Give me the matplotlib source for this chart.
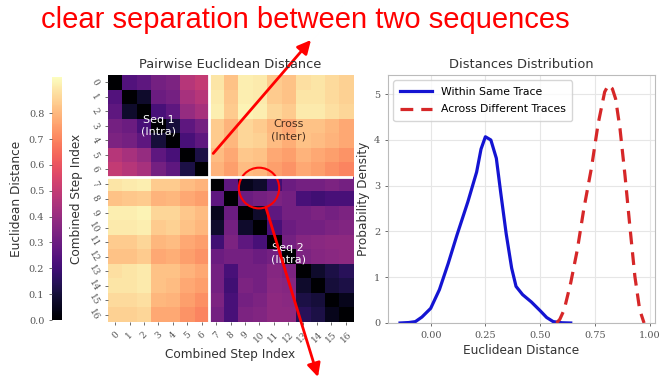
import numpy as np
import matplotlib
matplotlib.use("Agg")
import matplotlib.pyplot as plt
from matplotlib.patches import Circle

# distance blocks (Seq 1 = steps 0-6, Seq 2 = steps 7-16)
seq1_block = [
    [0.00, 0.24, 0.27, 0.32, 0.34, 0.47, 0.50],
    [0.24, 0.00, 0.08, 0.30, 0.32, 0.44, 0.47],
    [0.27, 0.08, 0.00, 0.22, 0.27, 0.40, 0.44],
    [0.32, 0.30, 0.22, 0.00, 0.10, 0.27, 0.32],
    [0.34, 0.32, 0.27, 0.10, 0.00, 0.22, 0.27],
    [0.47, 0.44, 0.40, 0.27, 0.22, 0.00, 0.12],
    [0.50, 0.47, 0.44, 0.32, 0.27, 0.12, 0.00],
]
seq2_block = [
    [0.00, 0.27, 0.05, 0.08, 0.20, 0.30, 0.32, 0.32, 0.34, 0.32],
    [0.27, 0.00, 0.30, 0.32, 0.34, 0.32, 0.22, 0.20, 0.22, 0.22],
    [0.05, 0.30, 0.00, 0.08, 0.27, 0.32, 0.32, 0.34, 0.32, 0.34],
    [0.08, 0.32, 0.08, 0.00, 0.22, 0.30, 0.32, 0.32, 0.34, 0.35],
    [0.20, 0.34, 0.27, 0.22, 0.00, 0.32, 0.36, 0.37, 0.38, 0.38],
    [0.30, 0.32, 0.32, 0.30, 0.32, 0.00, 0.34, 0.36, 0.37, 0.38],
    [0.32, 0.22, 0.32, 0.32, 0.36, 0.34, 0.00, 0.08, 0.12, 0.15],
    [0.32, 0.20, 0.34, 0.32, 0.37, 0.36, 0.08, 0.00, 0.10, 0.12],
    [0.34, 0.22, 0.32, 0.34, 0.38, 0.37, 0.12, 0.10, 0.00, 0.05],
    [0.32, 0.22, 0.34, 0.35, 0.38, 0.38, 0.15, 0.12, 0.05, 0.00],
]
cross_block = [
    [0.89, 0.82, 0.91, 0.90, 0.84, 0.82, 0.88, 0.89, 0.87, 0.85],
    [0.90, 0.83, 0.91, 0.90, 0.84, 0.82, 0.89, 0.89, 0.87, 0.85],
    [0.91, 0.84, 0.92, 0.91, 0.86, 0.84, 0.90, 0.90, 0.88, 0.86],
    [0.84, 0.79, 0.86, 0.84, 0.80, 0.77, 0.82, 0.82, 0.80, 0.77],
    [0.84, 0.80, 0.86, 0.85, 0.81, 0.78, 0.82, 0.81, 0.79, 0.77],
    [0.81, 0.77, 0.83, 0.82, 0.77, 0.75, 0.79, 0.77, 0.75, 0.73],
    [0.79, 0.75, 0.81, 0.80, 0.75, 0.73, 0.77, 0.75, 0.72, 0.70],
]
step_labels = [str(i) for i in range(17)]
cbar_ticks = [0.0, 0.1, 0.2, 0.3, 0.4, 0.5, 0.6, 0.7, 0.8]

# density curves
within_x = [-0.14, -0.10, -0.07, -0.04, 0.00, 0.04, 0.08, 0.12, 0.17, 0.21, 0.23,
            0.25, 0.275, 0.30, 0.32, 0.345, 0.37, 0.39, 0.42, 0.46, 0.50, 0.53,
            0.56, 0.60, 0.64]
within_y = [0.00, 0.01, 0.03, 0.13, 0.32, 0.73, 1.30, 1.92, 2.65, 3.30, 3.80,
            4.07, 4.00, 3.60, 2.85, 1.95, 1.20, 0.80, 0.62, 0.46, 0.27, 0.12,
            0.03, 0.005, 0.0]
across_x = [0.575, 0.59, 0.61, 0.64, 0.67, 0.70, 0.735, 0.765, 0.795, 0.812, 0.83,
            0.845, 0.865, 0.888, 0.91, 0.933, 0.955, 0.975]
across_y = [0.0, 0.08, 0.29, 0.88, 1.60, 2.50, 3.40, 4.35, 5.05, 5.20, 5.12,
            4.90, 4.25, 3.22, 2.12, 1.02, 0.29, 0.0]
dist_ticks = [0.00, 0.25, 0.50, 0.75, 1.00]
dens_ticks = [0, 1, 2, 3, 4, 5]

s1 = np.array(seq1_block)
s2 = np.array(seq2_block)
cr = np.array(cross_block)
dist = np.block([[s1, cr], [cr.T, s2]])

W, H = 662, 379
fig = plt.figure(figsize=(W / 100, H / 100), dpi=100)
serif = "DejaVu Serif"
grey = "#333333"

# heatmap
ax_h = fig.add_axes([108 / W, 1 - 322 / H, 245 / W, 247 / H])
im = ax_h.imshow(dist, cmap="magma", vmin=0, vmax=0.94, aspect="auto",
                 interpolation="nearest")
ax_h.axhline(6.5, color="white", lw=2)
ax_h.axvline(6.5, color="white", lw=2)
ax_h.set_xticks(range(17))
ax_h.set_yticks(range(17))
ax_h.set_xticklabels(step_labels, rotation=45, fontsize=6.5, family=serif, color=grey)
ax_h.set_yticklabels(step_labels, rotation=-60, fontsize=6.5, family=serif, color=grey,
                     va="center")
ax_h.tick_params(length=2, width=0.6, colors="#555555")
for sp in ax_h.spines.values():
    sp.set_visible(False)
ax_h.set_title("Pairwise Euclidean Distance", fontsize=9.4, color=grey, pad=5)
ax_h.set_xlabel("Combined Step Index", fontsize=8.7, color=grey, labelpad=3)
ax_h.set_ylabel("Combined Step Index", fontsize=8.7, color=grey, labelpad=3)
ax_h.text(3, 3, "Seq 1\n(Intra)", color="white", ha="center", va="center", fontsize=8)
ax_h.text(12, 3.3, "Cross\n(Inter)", color="#4a3020", ha="center", va="center", fontsize=8)
ax_h.text(12, 11.8, "Seq 2\n(Intra)", color="white", ha="center", va="center", fontsize=8)

# colorbar on the left
ax_c = fig.add_axes([52 / W, 1 - 320 / H, 10 / W, 243 / H])
cb = fig.colorbar(im, cax=ax_c)
cb.set_ticks(cbar_ticks)
cb.outline.set_visible(False)
ax_c.yaxis.set_ticks_position("left")
ax_c.yaxis.set_label_position("left")
ax_c.tick_params(labelsize=7, length=2, width=0.6, colors="#555555")
for t in ax_c.get_yticklabels():
    t.set_family(serif)
cb.set_label("Euclidean Distance", fontsize=8.7, color=grey, labelpad=4)

# density panel
ax_d = fig.add_axes([388 / W, 1 - 323 / H, 267 / W, 248 / H])
ax_d.plot(within_x, within_y, color="#1414d2", lw=2.3, label="Within Same Trace")
ax_d.plot(across_x, across_y, color="#d62728", lw=2.3, ls=(0, (4, 2.5)),
          label="Across Different Traces")
ax_d.set_xlim(-0.195, 1.025)
ax_d.set_ylim(0, 5.42)
ax_d.set_xticks(dist_ticks)
ax_d.set_yticks(dens_ticks)
ax_d.set_xticklabels([f"{v:.2f}" for v in dist_ticks], family=serif)
ax_d.set_yticklabels([str(v) for v in dens_ticks], family=serif)
ax_d.tick_params(labelsize=7, length=2, width=0.6, colors="#555555")
ax_d.grid(True, color="#e6e6e6", lw=0.8)
ax_d.set_axisbelow(True)
for sp in ax_d.spines.values():
    sp.set_color("#bbbbbb")
ax_d.set_title("Distances Distribution", fontsize=9.4, color=grey, pad=5)
ax_d.set_xlabel("Euclidean Distance", fontsize=8.7, color=grey, labelpad=3)
ax_d.set_ylabel("Probability Density", fontsize=8.7, color=grey, labelpad=3)
ax_d.legend(loc="upper left", fontsize=7.8, frameon=True, edgecolor="#cccccc",
            handlelength=3, labelspacing=0.7, borderpad=0.6)

# red annotations
fig.text(305 / W, 1 - 20 / H, "clear separation between two sequences",
         color="red", fontsize=21, family="Liberation Sans", ha="center", va="center")
ax_h.add_patch(Circle((9.98, 7.28), 1.4, fill=False, edgecolor="red", lw=1.5,
                      clip_on=False))
arrow = dict(arrowstyle="-|>,head_length=0.8,head_width=0.4", color="red", lw=2,
             shrinkA=0, shrinkB=0)
ax_h.annotate("", xy=(311 / W, 1 - 40 / H), xycoords="figure fraction",
              xytext=(6.8, 4.9), textcoords="data", arrowprops=arrow,
              annotation_clip=False)
ax_h.annotate("", xy=(318 / W, 1 - 377 / H), xycoords="figure fraction",
              xytext=(10.45, 8.6), textcoords="data", arrowprops=arrow,
              annotation_clip=False)

fig.savefig("out.png", dpi=100)
